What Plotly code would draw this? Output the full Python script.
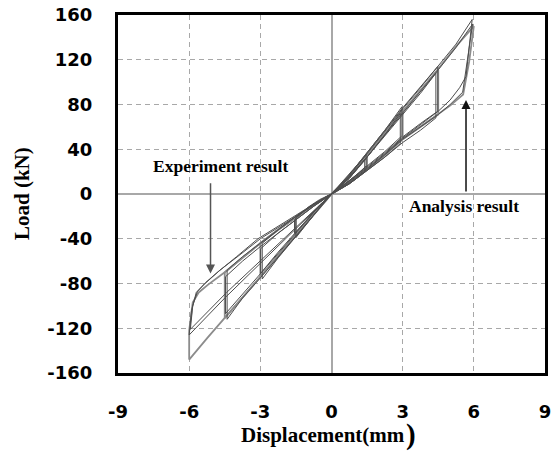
import plotly.graph_objects as go

# Axis ticks
x_ticks = [-9, -6, -3, 0, 3, 6, 9]
x_tick_text = ["-9", "-6", "-3", "0", "3", "6", "9"]
y_ticks = [-160, -120, -80, -40, 0, 40, 80, 120, 160]
y_tick_text = ["-160", "-120", "-80", "-40", "0", "40", "80", "120", "160"]

# Experiment: measured hysteresis cycles (displacement mm, load kN)
exp_disp = [
    [0, 0.5, 1.0, 1.40, 1.40, 1.0, 0.5, 0, -0.5, -1.0, -1.50, -1.50, -1.0, -0.5, 0],
    [0, 0.5, 1.0, 1.46, 1.46, 1.0, 0.5, 0, -0.5, -1.0, -1.56, -1.56, -1.0, -0.5, 0],
    [0, 0.75, 1.5, 2.25, 2.90, 2.90, 2.25, 1.5, 0.75, 0,
     -0.75, -1.5, -2.25, -2.92, -2.92, -2.25, -1.5, -0.75, 0],
    [0, 0.75, 1.5, 2.25, 2.97, 2.97, 2.25, 1.5, 0.75, 0,
     -0.75, -1.5, -2.25, -2.99, -2.99, -2.25, -1.5, -0.75, 0],
    [0, 0.75, 1.5, 2.25, 3.0, 3.75, 4.40, 4.40, 3.75, 3.0, 2.25, 1.5, 0.75, 0,
     -0.75, -1.5, -2.25, -3.0, -3.75, -4.40, -4.40, -3.75, -3.0, -2.25, -1.5, -0.75, 0],
    [0, 0.75, 1.5, 2.25, 3.0, 3.75, 4.48, 4.48, 3.75, 3.0, 2.25, 1.5, 0.75, 0,
     -0.75, -1.5, -2.25, -3.0, -3.75, -4.47, -4.47, -3.75, -3.0, -2.25, -1.5, -0.75, 0],
    [0, 0.75, 1.5, 2.25, 3.0, 3.75, 4.5, 5.0, 5.53, 5.95, 5.25, 4.5, 3.75, 3.0, 2.25, 1.5, 0.75, 0,
     -0.75, -1.5, -2.25, -3.1, -4.0, -4.75, -5.33, -5.7, -5.9, -6.0, -4.5, -3.0, -1.5, 0],
    [0, 0.75, 1.5, 2.25, 3.0, 3.75, 4.5, 5.0, 5.4, 5.67, 5.93, 5.25, 4.5, 3.75, 3.0, 2.25, 1.5, 0.75, 0,
     -0.75, -1.5, -2.25, -3.0, -3.9, -4.7, -5.3, -5.65, -5.85, -5.95, -4.42, -3.0, -1.5, 0],
]
exp_load = [
    [0, 6, 13, 20, 31, 21, 10, 0, -12, -26, -39, -21, -13, -6, 0],
    [0, 8, 16, 25, 35, 24, 12, 0, -10, -23, -35, -23, -12, -5, 0],
    [0, 9, 21, 33, 45, 72, 53, 33, 15, 0,
     -19, -38, -57, -76, -44, -32, -20, -10, 0],
    [0, 12, 25, 38, 52, 78, 57, 37, 17, 0,
     -16, -34, -52, -71, -49, -35, -23, -11, 0],
    [0, 9, 21, 33, 46, 57, 68, 108, 90, 71, 52, 33, 14, 0,
     -19, -38, -56, -75, -93, -112, -68, -56, -44, -32, -20, -9, 0],
    [0, 12, 24, 37, 51, 63, 74, 114, 96, 77, 57, 37, 17, 0,
     -16, -35, -53, -71, -89, -107, -74, -60, -47, -35, -23, -11, 0],
    [0, 10, 22, 35, 49, 60, 71, 80, 91, 152, 131, 111, 92, 73, 53, 33, 14, 0,
     -9, -19, -29, -40, -56, -69, -80, -88, -104, -126, -93, -62, -31, 0],
    [0, 11, 23, 36, 50, 62, 74, 84, 95, 105, 156, 134, 114, 95, 76, 56, 36, 16, 0,
     -9, -20, -30, -40, -55, -68, -79, -87, -100, -121, -88, -60, -30, 0],
]

# Analysis: computed hysteresis cycles
ana_disp = [
    [0, 0.75, 1.5, 1.5, 0.75, 0, -0.75, -1.5, -1.5, -0.75, 0],
    [0, 0.75, 1.5, 2.25, 3.0, 3.0, 2.25, 1.5, 0.75, 0,
     -0.75, -1.5, -2.25, -3.0, -3.0, -2.25, -1.5, -0.75, 0],
    [0, 0.75, 1.5, 2.25, 3.0, 3.75, 4.5, 4.5, 3.75, 3.0, 2.25, 1.5, 0.75, 0,
     -0.75, -1.5, -2.25, -3.0, -3.75, -4.5, -4.5, -3.75, -3.0, -2.25, -1.5, -0.75, 0],
    [0, 0.75, 1.5, 2.25, 3.0, 3.75, 4.5, 5.0, 5.55, 5.8, 6.0, 5.25, 4.5, 3.75, 3.0, 2.25, 1.5, 0.75, 0,
     -0.75, -1.5, -2.25, -3.0, -3.75, -4.5, -5.25, -6.0, -6.0, -5.85, -5.6, -5.2, -4.5, -3.75, -3.0,
     -2.25, -1.5, -0.75, 0],
]
ana_load = [
    [0, 11, 23, 33, 15, 0, -18, -37, -21, -10, 0],
    [0, 10, 22, 35, 49, 75, 54, 34, 15, 0,
     -18, -37, -56, -74, -44, -32, -21, -10, 0],
    [0, 10, 22, 35, 49, 60, 71, 111, 93, 74, 54, 34, 15, 0,
     -18, -37, -55, -74, -92, -111, -70, -57, -44, -32, -21, -10, 0],
    [0, 10, 22, 35, 49, 60, 71, 79, 89, 118, 150, 132, 112, 93, 74, 54, 34, 15, 0,
     -18, -37, -55, -74, -92, -111, -129, -148, -122, -97, -88, -81, -70, -57, -44,
     -32, -21, -10, 0],
]

fig = go.Figure()

for d, f in zip(ana_disp, ana_load):
    fig.add_trace(go.Scatter(x=d, y=f, mode="lines",
                             line=dict(color="#8c8c8c", width=1.8),
                             showlegend=False, hoverinfo="skip"))
for d, f in zip(exp_disp, exp_load):
    fig.add_trace(go.Scatter(x=d, y=f, mode="lines",
                             line=dict(color="#4d4d4d", width=1.0),
                             showlegend=False, hoverinfo="skip"))

tick_font = dict(family="DejaVu Sans", size=18, color="black", weight="bold")
title_font = dict(family="Liberation Serif", size=21, color="black", weight="bold")
paren_font = dict(family="Liberation Serif", size=29, color="black", weight="bold")
label_font = dict(family="Liberation Serif", size=17.5, color="black", weight="bold")

grid_style = dict(showgrid=True, gridcolor="#a8a8a8", griddash="5px,4px", gridwidth=1,
                  zeroline=True, zerolinecolor="#a8a8a8", zerolinewidth=1.5,
                  showline=True, linecolor="black", linewidth=3, mirror=True, ticks="")

fig.update_xaxes(range=[-9, 9], tickvals=x_ticks, ticktext=x_tick_text,
                 tickfont=tick_font, ticklabelstandoff=20, **grid_style)
fig.update_yaxes(range=[-160, 160], tickvals=y_ticks, ticktext=y_tick_text,
                 tickfont=tick_font, ticklabelstandoff=19, **grid_style)

annotations = [
    # axis titles
    dict(text="Displacement(mm", xref="paper", yref="paper", x=0.5, y=0,
         xanchor="center", yanchor="middle", yshift=-62, xshift=-9,
         showarrow=False, font=title_font),
    dict(text=")", xref="paper", yref="paper", x=0.5, y=0,
         xanchor="center", yanchor="middle", yshift=-61, xshift=79,
         showarrow=False, font=paren_font),
    dict(text="Load (kN)", xref="paper", yref="paper", x=0, y=0.5,
         xanchor="center", yanchor="middle", xshift=-96, textangle=-90,
         showarrow=False, font=title_font),
    # callouts
    dict(text="Experiment result", xref="x", yref="y", x=-4.7, y=25,
         xanchor="center", yanchor="middle", showarrow=False, font=label_font),
    dict(text="Analysis result", xref="x", yref="y", x=5.6, y=-11,
         xanchor="center", yanchor="middle", showarrow=False, font=label_font),
    dict(text="", xref="x", yref="y", x=-5.1, y=-71, axref="x", ayref="y",
         ax=-5.1, ay=11, showarrow=True, arrowhead=2, arrowsize=1.2,
         arrowwidth=1.5, arrowcolor="#555555"),
    dict(text="", xref="x", yref="y", x=5.67, y=84, axref="x", ayref="y",
         ax=5.67, ay=1, showarrow=True, arrowhead=2, arrowsize=1.2,
         arrowwidth=1.5, arrowcolor="#111111"),
]

fig.update_layout(width=555, height=452,
                  margin=dict(l=118, r=10, t=15, b=79, autoexpand=False),
                  plot_bgcolor="white", paper_bgcolor="white",
                  annotations=annotations, showlegend=False)

fig.write_html("out.html")
